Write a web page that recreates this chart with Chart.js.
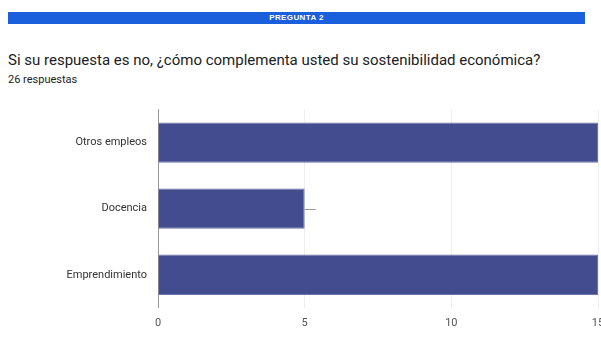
<!DOCTYPE html>
<html lang="es">
<head>
    <meta charset="UTF-8">
    <title>Pregunta 2</title>
    <style>
        html, body { margin: 0; padding: 0; background: #fff; overflow: hidden; width: 601px; height: 364px; }
        body { position: relative; font-family: Roboto, "Liberation Sans", Arial, sans-serif; }
        .banner {
            position: absolute; left: 8px; top: 12px; width: 577px; height: 12px;
            background: #1a5fdc; color: #fff; font: bold 8px "Liberation Sans", Arial, sans-serif;
            text-align: center; line-height: 12px; letter-spacing: 0.4px;
        }
        .titulo { position: absolute; left: 8px; top: 51px; font-size: 15px; color: #202124; white-space: nowrap; }
        .sub { position: absolute; left: 8px; top: 73px; font-size: 11px; color: #202124; }
        .grafico { position: absolute; left: 0; top: 92px; width: 640px; height: 247px; }
    </style>
</head>
<body>
    <div class="banner">PREGUNTA 2</div>
    <div class="titulo">Si su respuesta es no, ¿cómo complementa usted su sostenibilidad económica?</div>
    <div class="sub">26 respuestas</div>
    <div class="grafico"><canvas id="chart"></canvas></div>

    <script src="https://cdn.jsdelivr.net/npm/chart.js"></script>
    <script>
        // Opciones y número de respuestas
        const opciones = ['Otros empleos', 'Docencia', 'Emprendimiento'];
        const respuestas = [15, 5, 15];
        const marcasEje = [0, 5, 10, 15];

        // pequeña guía gris al final de la barra de "Docencia"
        const guia = {
            id: 'guia',
            afterDatasetsDraw(chart) {
                const bar = chart.getDatasetMeta(0).data[1];
                const ctx = chart.ctx;
                ctx.save();
                ctx.strokeStyle = '#9a9a9a';
                ctx.lineWidth = 1;
                ctx.beginPath();
                ctx.moveTo(bar.x, Math.round(bar.y) + 0.5);
                ctx.lineTo(bar.x + 11, Math.round(bar.y) + 0.5);
                ctx.stroke();
                ctx.restore();
            }
        };

        new Chart(document.getElementById('chart'), {
            type: 'bar',
            data: {
                labels: opciones,
                datasets: [{
                    data: respuestas,
                    backgroundColor: '#434c8e',
                    borderColor: '#6c74ad',
                    borderWidth: 1,
                    barPercentage: 0.61,
                    categoryPercentage: 1.0
                }]
            },
            options: {
                indexAxis: 'y',
                responsive: true,
                maintainAspectRatio: false,
                animation: false,
                layout: { padding: { top: 4, right: 42, bottom: 0, left: 0 } },
                plugins: { legend: { display: false }, tooltip: { enabled: false } },
                scales: {
                    x: {
                        min: 0,
                        max: 15,
                        afterBuildTicks: (scale) => { scale.ticks = marcasEje.map(v => ({ value: v })); },
                        grid: { color: '#eeeeee', drawTicks: false },
                        border: { display: false },
                        ticks: { color: '#555', font: { family: 'Roboto', size: 11 }, padding: 9 }
                    },
                    y: {
                        afterFit: (scale) => { scale.width = 158; },
                        grid: { display: false, drawTicks: false },
                        border: { color: '#999', width: 1 },
                        ticks: { color: '#333', font: { family: 'Roboto', size: 11 }, padding: 11 }
                    }
                }
            },
            plugins: [guia]
        });
    </script>
</body>
</html>
